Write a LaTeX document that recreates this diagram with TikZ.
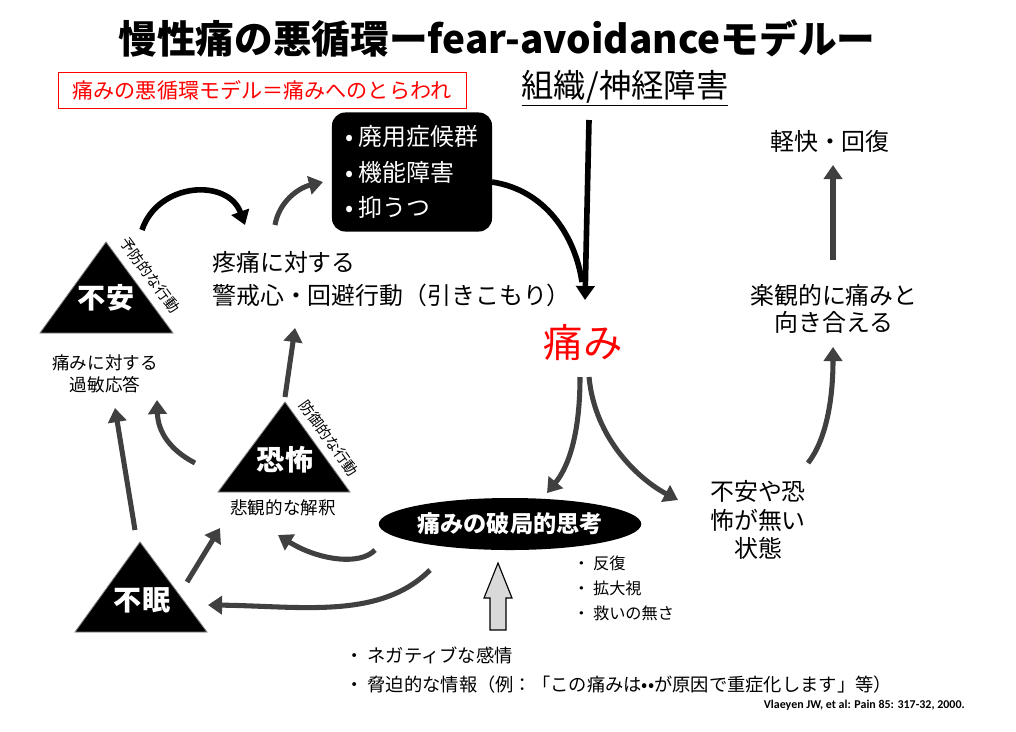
\documentclass[tikz,border=0pt]{standalone}
\usepackage{fontspec}
\setmainfont{Noto Sans CJK JP}
\newfontfamily\reffont{Carlito}
\usetikzlibrary{arrows.meta,shapes.geometric}

\begin{document}
\begin{tikzpicture}[x=0.025cm, y=-0.025cm,
  txt/.style={inner sep=0pt, align=center, font=\fontsize{17}{20.5}\selectfont},
  small/.style={inner sep=0pt, align=left, font=\fontsize{13}{20.6}\selectfont},
  tri/.style={fill=black, draw=gray, line width=0.6pt, line join=miter},
  trilabel/.style={text=white, inner sep=0pt, font=\bfseries\fontsize{20}{20}\selectfont},
  side/.style={inner sep=0pt, font=\fontsize{10.5}{10.5}\selectfont},
  arrow/.style={-{Triangle[length=10pt,width=13pt]}, line width=3.6pt, draw=darkgray},
  blackarrow/.style={-{Triangle[length=10pt,width=13pt]}, line width=4pt}
]
\useasboundingbox (0,0) rectangle (1016,731);

\node[inner sep=0pt, font=\bfseries\fontsize{27.5}{27.5}\selectfont] (title) at (497,38) {慢性痛の悪循環ーfear-avoidanceモデルー};
\node[draw=red, text=red, inner sep=0pt, minimum width=10.2cm, minimum height=0.9cm, font=\fontsize{15}{15}\selectfont] (lead) at (262,90) {痛みの悪循環モデル＝痛みへのとらわれ};
\node[inner sep=0pt, font=\fontsize{23}{23}\selectfont] (tissue) at (625,88) {\underline{組織/神経障害}};

\node[fill=black, rounded corners=0.33cm, minimum width=4cm, minimum height=2.975cm, text=white, align=left, font=\fontsize{17}{25.5}\selectfont] (disuse) at (412,172) {• 廃用症候群\\• 機能障害\\• 抑うつ};
\node[text=red, inner sep=0pt, font=\fontsize{28}{28}\selectfont] (pain) at (583,343) {痛み};
\node[txt, align=left, anchor=west, font=\fontsize{17}{23.5}\selectfont] (vigil) at (212,279) {疼痛に対する\\警戒心・回避行動（引きこもり）};

\fill[tri] (40,333) -- (106,242) -- (173,333) -- cycle;
\node[trilabel] (anx) at (106,298) {不安};
\node[side, rotate=-53.6] (prevent) at (150,275) {予防的な行動};
\node[inner sep=0pt, align=center, font=\fontsize{12.5}{15.6}\selectfont] (anxresp) at (105,374) {痛みに対する\\過敏応答};

\fill[tri] (218,492) -- (285,402) -- (350,492) -- cycle;
\node[trilabel] (fear) at (285,460) {恐怖};
\node[side, rotate=-54.2] (defend) at (329,438) {防御的な行動};
\node[inner sep=0pt, font=\fontsize{12.5}{12.5}\selectfont] (pessim) at (283,508) {悲観的な解釈};

\fill[tri] (75,632) -- (140,542) -- (207,632) -- cycle;
\node[trilabel] (insom) at (142,600) {不眠};

\node[ellipse, fill=black, inner sep=0pt, minimum width=6.25cm, minimum height=1.3cm, text=white, font=\bfseries\fontsize{16.5}{16.5}\selectfont] (catas) at (510,524) {痛みの破局的思考};
\node[small, anchor=west, font=\fontsize{11.5}{17.8}\selectfont] (forms) at (573,588) {・ 反復\\・ 拡大視\\・ 救いの無さ};

\node[txt] (calm) at (758,520) {不安や恐\\怖が無い\\状態};
\node[txt, font=\fontsize{17}{19.5}\selectfont] (face) at (834,309) {楽観的に痛みと\\向き合える};
\node[txt] (recov) at (830,141) {軽快・回復};

\node[small, anchor=west] (neg) at (345,670) {・ ネガティブな感情\\・ 脅迫的な情報（例：「この痛みは••が原因で重症化します」等）};
\node[inner sep=0pt, anchor=east, font=\reffont\bfseries\fontsize{8.5}{8.5}\selectfont] (source) at (965,705) {Vlaeyen JW, et al: Pain 85: 317-32, 2000.};

\filldraw[fill=gray!30, draw=black, line width=0.8pt] (490,630) -- (490,598) -- (484,598) -- (498,563) -- (512,598) -- (506,598) -- (506,630) -- cycle;

\coordinate (t0) at (589,120);
\coordinate (t1) at (585,300);
\coordinate (d0) at (492,182);
\coordinate (d1) at (582,282);
\coordinate (a0) at (142,230);
\coordinate (a1) at (245,225);
\coordinate (v0) at (275,225);
\coordinate (v1) at (323,182);
\coordinate (p0) at (580,377);
\coordinate (p1) at (547,493);
\coordinate (p2) at (589,377);
\coordinate (p3) at (678,500);
\coordinate (c0) at (808,463);
\coordinate (c1) at (833,347);
\coordinate (f0) at (833,260);
\coordinate (f1) at (833,165);
\coordinate (e0) at (375,550);
\coordinate (e1) at (278,535);
\coordinate (e2) at (430,570);
\coordinate (e3) at (208,605);
\coordinate (i0) at (187,582);
\coordinate (i1) at (220,528);
\coordinate (i2) at (135,530);
\coordinate (i3) at (115,408);
\coordinate (k0) at (195,463);
\coordinate (k1) at (157,400);
\coordinate (k2) at (285,397);
\coordinate (k3) at (295,328);

\draw[blackarrow] (t0) -- (t1);
\draw[line width=4pt] (d0) .. controls (545,190) and (575,235) .. (d1);
\draw[blackarrow] (a0) .. controls (158,182) and (228,178) .. (a1);
\draw[arrow] (v0) .. controls (279,202) and (298,188) .. (v1);
\draw[arrow] (p0) .. controls (580,430) and (570,465) .. (p1);
\draw[arrow] (p2) .. controls (595,440) and (640,480) .. (p3);
\draw[arrow] (c0) .. controls (826,440) and (833,400) .. (c1);
\draw[arrow] (f0) -- (f1);
\draw[arrow] (e0) .. controls (360,566) and (318,560) .. (e1);
\draw[arrow] (e2) .. controls (380,620) and (300,606) .. (e3);
\draw[arrow] (i0) -- (i1);
\draw[arrow] (i2) -- (i3);
\draw[arrow] (k0) .. controls (170,450) and (158,432) .. (k1);
\draw[arrow] (k2) -- (k3);
\end{tikzpicture}
\end{document}
